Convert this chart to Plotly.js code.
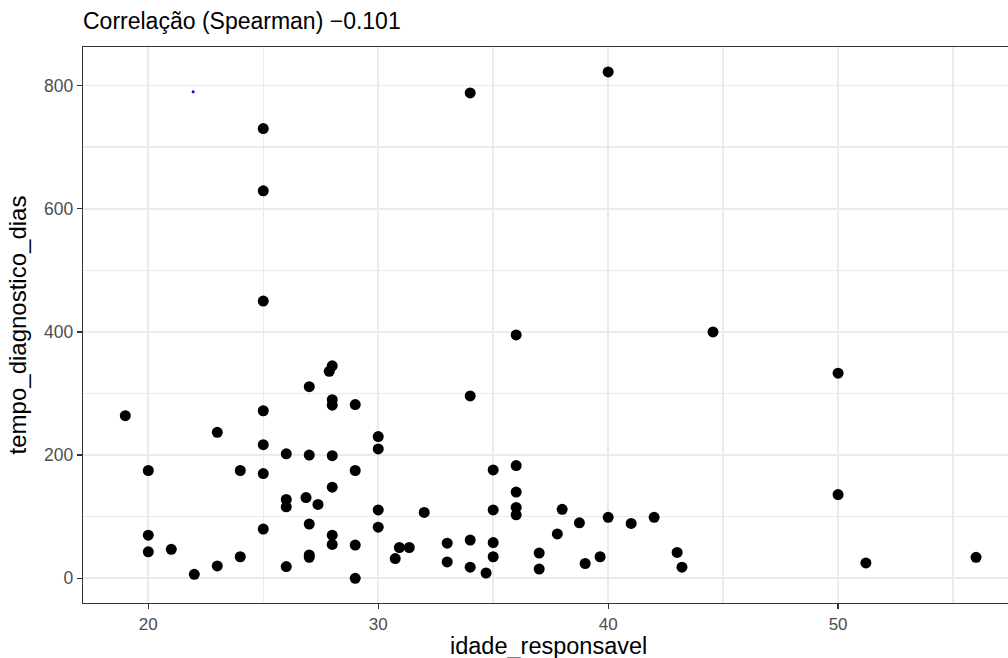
<!DOCTYPE html>
<html>
<head>
<meta charset="utf-8">
<script src="https://cdn.plot.ly/plotly-3.0.1.min.js"></script>
<style>html,body{margin:0;padding:0;background:#fff;}#chart{width:1008px;height:658px;}</style>
</head>
<body>
<div id="chart"></div>
<script>
const idade_responsavel = [19,20,20,20,21,22,23,23,24,24,25,25,25,25,25,25,25,26,26,26,26,26.86,27,27,27,27,27,27.38,27.87,28,28,28,28,28,28,28,29,29,29,29,30,30,30,30,30.74,30.92,31.35,32,33,33,34,34,34,34,34.69,35,35,35,35,36,36,36,36,36,37,37,37.79,38,38.75,39,39.65,40,40,41,42,43,43.21,44.56,50,50,51.21,56];
const tempo_diagnostico_dias = [264,175,70,43,47,6.5,237,20,175,35,730,629,450,272,217,170,80,202,128,116,19,131,311,200,88,38,34,120,336,345,290,281,199,148,70,55,282,175,54,0,230,210,111,83,32,50,50,107,57,26.5,788,296,62,18,8.6,176,111,58,35,395,183,140,115,103,41,15,72,112,90,24,35,822,99,89,99,42,18,400,333,136,25,34];
const marker_x = [21.95];
const marker_y = [790];
const titleText = "Correlação (Spearman) \u22120.101";
const xTitle = 'idade_responsavel';
const yTitle = 'tempo_diagnostico_dias';
const xTickVals = [20,30,40,50];
const yTickVals = [0,200,400,600,800];

const FONT = "Liberation Sans, Arial, sans-serif";
const traces = [
  {x: idade_responsavel, y: tempo_diagnostico_dias, type: 'scatter', mode: 'markers',
   marker: {color: '#000000', size: 11}, hoverinfo: 'x+y', showlegend: false},
  {x: marker_x, y: marker_y, type: 'scatter', mode: 'markers',
   marker: {color: '#0000FF', size: 3}, showlegend: false}
];
const gridC = '#EBEBEB';
const layout = {
  width: 1008, height: 658,
  margin: {l: 83, r: 0, t: 47, b: 55},
  paper_bgcolor: '#ffffff', plot_bgcolor: '#ffffff',
  font: {family: FONT, color: '#000'},
  showlegend: false,
  title: {text: titleText, font: {family: FONT, size: 23, color: '#000'},
          xref: 'container', x: 83/1008, xanchor: 'left',
          yref: 'container', y: 1 - 21/658, yanchor: 'middle'},
  xaxis: {
    range: [17.16, 57.39], tickvals: xTickVals, ticktext: xTickVals.map(String),
    showgrid: true, gridcolor: gridC, gridwidth: 1.8,
    minor: {tickvals: [25,35,45,55], showgrid: true, gridcolor: gridC, gridwidth: 1.4, ticks: ''},
    zeroline: false, showline: true, mirror: true, linecolor: '#333333', linewidth: 1.3,
    ticks: 'outside', ticklen: 5, tickwidth: 1.3, tickcolor: '#333333',
    tickfont: {family: FONT, size: 17, color: '#4D4D4D'}
  },
  yaxis: {
    range: [-40.1, 862.5], tickvals: yTickVals, ticktext: yTickVals.map(String),
    showgrid: true, gridcolor: gridC, gridwidth: 1.8,
    minor: {tickvals: [100,300,500,700], showgrid: true, gridcolor: gridC, gridwidth: 1.4, ticks: ''},
    zeroline: false, showline: true, mirror: false, linecolor: '#333333', linewidth: 1.3,
    ticks: 'outside', ticklen: 5, tickwidth: 1.3, tickcolor: '#333333',
    tickfont: {family: FONT, size: 17.5, color: '#4D4D4D'},
    title: {text: yTitle, font: {family: FONT, size: 24, color: '#000'}, standoff: 10}
  },
  annotations: [
    {text: xTitle, xref: 'paper', x: (548 - 83) / (1008 - 83), xanchor: 'center',
     yref: 'paper', y: 0, yanchor: 'middle', yshift: -43, showarrow: false,
     font: {family: FONT, size: 23.5, color: '#000'}}
  ]
};
Plotly.newPlot('chart', traces, layout, {displayModeBar: false, staticPlot: true});
</script>
</body>
</html>
